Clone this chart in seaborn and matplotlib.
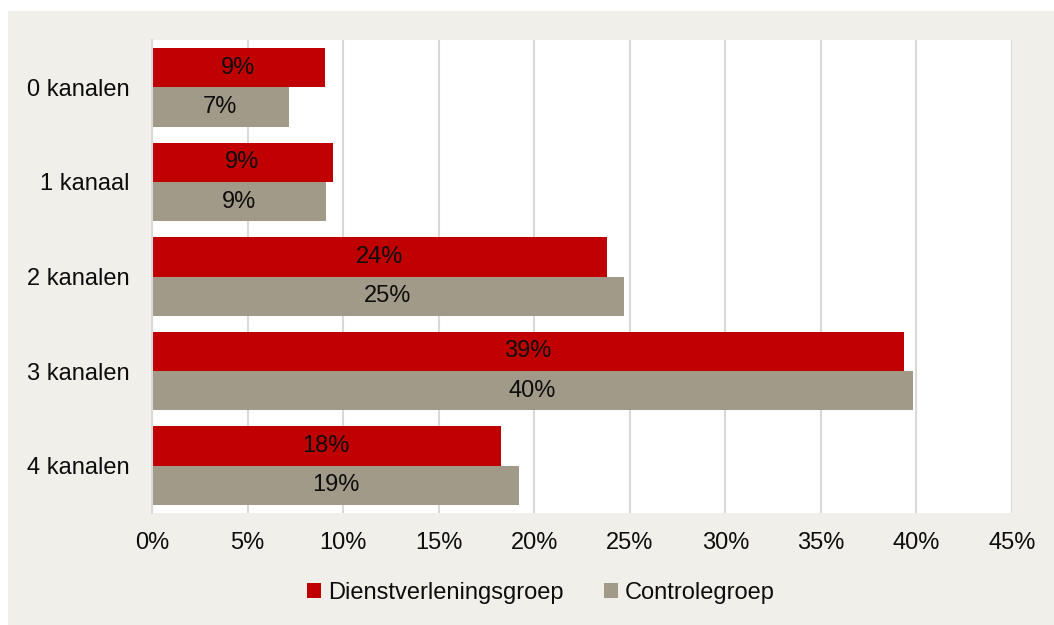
import matplotlib
matplotlib.use("Agg")
import matplotlib.pyplot as plt
import seaborn as sns
import pandas as pd
from matplotlib.patches import Rectangle

categories = ["0 kanalen", "1 kanaal", "2 kanalen", "3 kanalen", "4 kanalen"]
dienst = [9.05, 9.45, 23.8, 39.35, 18.25]
controle = [7.15, 9.1, 24.7, 39.8, 19.2]
series_names = ["Dienstverleningsgroep", "Controlegroep"]
xticks = [0, 5, 10, 15, 20, 25, 30, 35, 40, 45]

df = pd.DataFrame({
    "cat": categories * 2,
    "val": dienst + controle,
    "groep": [series_names[0]] * len(categories) + [series_names[1]] * len(categories),
})

sns.set_theme(style="white")
plt.rcParams["font.family"] = ["Liberation Sans", "DejaVu Sans"]

W, H = 1054, 625
fig = plt.figure(figsize=(W / 100, H / 100), dpi=100, facecolor="white")
fig.patches.append(Rectangle((8 / W, 0), 1 - 8 / W, 1 - 11 / H, transform=fig.transFigure,
                             facecolor="#F0EFE9", edgecolor="none", zorder=-10))
ax = fig.add_axes([152 / W, 1 - 513 / H, (1012 - 152) / W, (513 - 40) / H])
ax.set_facecolor("white")

palette = {series_names[0]: "#C00000", series_names[1]: "#A29A88"}
sns.barplot(data=df, y="cat", x="val", hue="groep", orient="h", palette=palette,
            width=0.83, ax=ax, saturation=1, legend=True, linewidth=0)

for cont in ax.containers:
    ax.bar_label(cont, labels=[f"{v:.0f}%" for v in cont.datavalues], label_type="center",
                 fontsize=17, color="#0D0D0D")

ax.set_xlim(0, 45)
ax.set_xticks(xticks)
ax.set_xticklabels([f"{t}%" for t in xticks])
ax.grid(axis="x", color="#D9D9D9", linewidth=1.5)
ax.set_axisbelow(True)
for s in ["top", "right", "bottom"]:
    ax.spines[s].set_visible(False)
ax.spines["left"].set_color("#D9D9D9")
ax.spines["left"].set_linewidth(1.5)
ax.tick_params(axis="x", length=0, pad=14, labelsize=17, labelcolor="#0D0D0D")
ax.tick_params(axis="y", length=0, pad=16, labelsize=17, labelcolor="#0D0D0D")
ax.set_xlabel("")
ax.set_ylabel("")

handles, labels = ax.get_legend_handles_labels()
ax.get_legend().remove()
fig.legend(handles, labels, loc="center", bbox_to_anchor=(541 / W, 1 - 593 / H), ncol=2,
           frameon=False, fontsize=17, handlelength=0.6, handleheight=0.6,
           handletextpad=0.3, columnspacing=1.7, labelcolor="#0D0D0D")

fig.savefig("out.png", dpi=100, facecolor=fig.get_facecolor())
